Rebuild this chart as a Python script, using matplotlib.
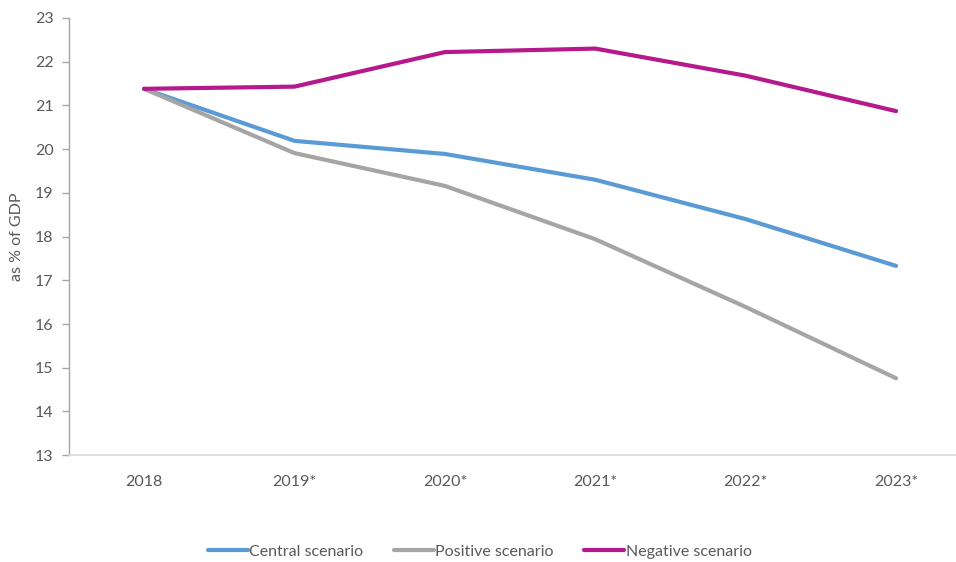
import numpy as np
import matplotlib
matplotlib.use("Agg")
from matplotlib import pyplot as plt

years = ['2018', '2019*', '2020*', '2021*', '2022*', '2023*']
central = [21.38, 20.19, 19.89, 19.30, 18.40, 17.33]
positive = [21.38, 19.91, 19.16, 17.94, 16.39, 14.76]
negative = [21.38, 21.43, 22.22, 22.30, 21.68, 20.87]

plt.rcParams['font.family'] = ['Lato', 'DejaVu Sans']

fig = plt.figure(figsize=(9.56, 5.62), dpi=100)
ax = fig.add_axes([0.072, 0.19, 0.944, 0.778])

x = np.arange(len(years))
ax.plot(x, central, color='#5B9BD5', lw=3, label='Central scenario', solid_capstyle='round')
ax.plot(x, positive, color='#A5A5A5', lw=3, label='Positive scenario', solid_capstyle='round')
ax.plot(x, negative, color='#B5198B', lw=3, label='Negative scenario', solid_capstyle='round')

ax.set_xlim(-0.5, len(years) - 0.5)
ax.set_ylim(13, 23)
ax.set_yticks(range(13, 24))
ax.set_xticks(x)
ax.set_xticklabels(years)
ax.tick_params(axis='x', length=0, pad=14, labelsize=11.5, colors='#595959')
ax.tick_params(axis='y', length=5, width=1, color='#A6A6A6', labelsize=11.5, labelcolor='#595959', pad=6)

for s in ['top', 'right']:
    ax.spines[s].set_visible(False)
ax.spines['left'].set_color('#A6A6A6')
ax.spines['bottom'].set_color('#D9D9D9')
ax.spines['left'].set_linewidth(1)
ax.spines['bottom'].set_linewidth(1.2)

ax.set_ylabel('as % of GDP', fontsize=11.5, color='#595959', labelpad=8)

fig.legend(loc='center', bbox_to_anchor=(0.502, 0.018), ncol=3, frameon=False,
           fontsize=11.5, handlelength=2.5, handletextpad=0.1, columnspacing=1.9,
           labelcolor='#595959')

fig.savefig('out.png', dpi=100)
